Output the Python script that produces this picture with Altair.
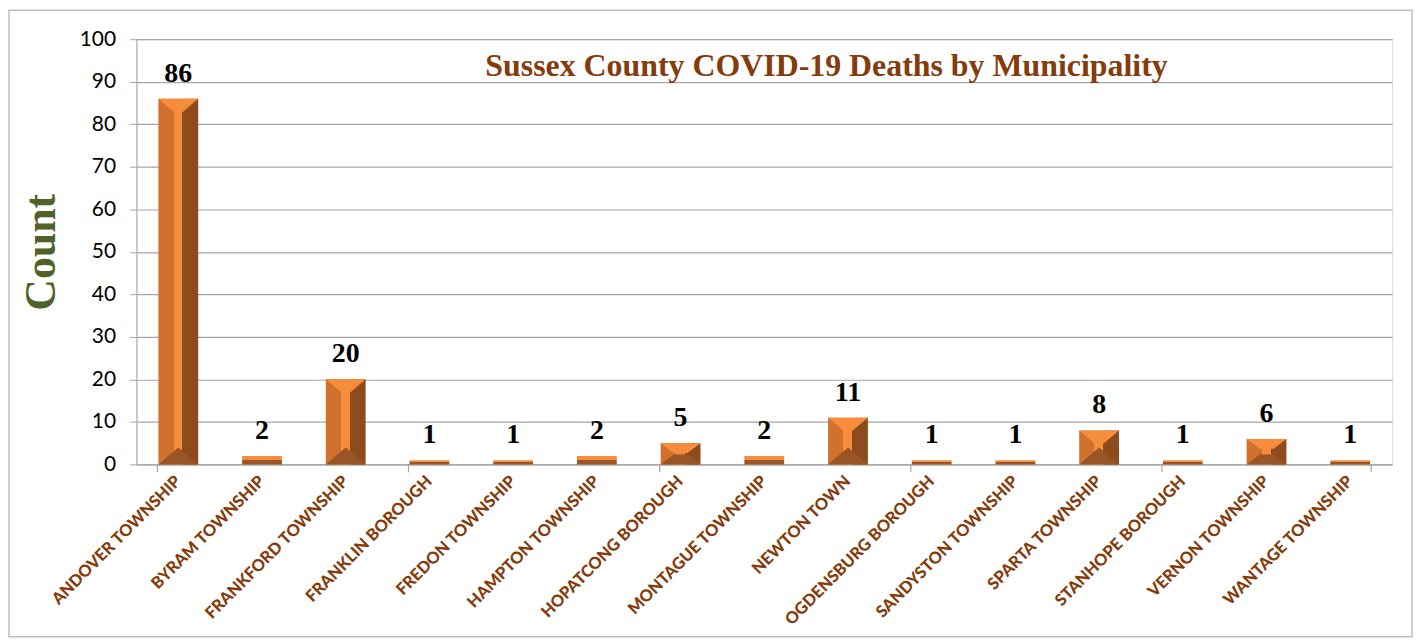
import altair as alt
import pandas as pd

municipalities = [
    "ANDOVER TOWNSHIP", "BYRAM TOWNSHIP", "FRANKFORD TOWNSHIP", "FRANKLIN BOROUGH",
    "FREDON TOWNSHIP", "HAMPTON TOWNSHIP", "HOPATCONG BOROUGH", "MONTAGUE TOWNSHIP",
    "NEWTON TOWN", "OGDENSBURG BOROUGH", "SANDYSTON TOWNSHIP", "SPARTA TOWNSHIP",
    "STANHOPE BOROUGH", "VERNON TOWNSHIP", "WANTAGE TOWNSHIP",
]
deaths = [86, 2, 20, 1, 1, 2, 5, 2, 11, 1, 1, 8, 1, 6, 1]
y_ticks = [0, 10, 20, 30, 40, 50, 60, 70, 80, 90, 100]
tick_starts = ["ANDOVER TOWNSHIP", "FRANKLIN BOROUGH", "HOPATCONG BOROUGH",
               "OGDENSBURG BOROUGH", "STANHOPE BOROUGH"]
tick_end = ["WANTAGE TOWNSHIP"]
title_text = ["Sussex County COVID-19 Deaths by Municipality"]

df = pd.DataFrame({"m": municipalities, "v": deaths, "zero": [0] * len(deaths)})
df["cap"] = ["full" if v >= 8 else ("half" if v >= 5 else "none") for v in deaths]

W, H = 1261, 427
GRAY = "#A6A6A6"
LIGHT = "#F58D3D"
MID = "#D2712D"
DARK = "#8E4C1E"
BOTTOM = "#9A5526"

xs = alt.X("m:N", sort=municipalities,
           scale=alt.Scale(paddingInner=0.5, paddingOuter=0.25),
           axis=alt.Axis(title=None, labelAngle=-45, labelAlign="right",
                         labelBaseline="middle", labelFont="Lato",
                         labelFontWeight=900, labelFontSize=16.5,
                         labelColor="#843C0C", labelPadding=14, ticks=False,
                         domainColor=GRAY, labelOverlap=False, labelLimit=300))
ys = alt.Y("v:Q", scale=alt.Scale(domain=[0, 100], nice=False),
           axis=alt.Axis(values=y_ticks, title="Count", titleFont="Liberation Serif",
                         titleFontSize=44, titleFontWeight="bold", titleColor="#4F6228",
                         titlePadding=16, labelFont="Lato", labelFontSize=21,
                         labelColor="#000000", labelPadding=14, tickSize=7,
                         tickColor=GRAY, domainColor=GRAY, gridColor=GRAY,
                         gridWidth=1.2))

base = alt.Chart(df)
xm = alt.X("m:N", sort=municipalities)

grad = alt.LinearGradient(
    gradient="linear", x1=0, x2=1, y1=0, y2=0,
    stops=[
        alt.GradientStop(color=MID, offset=0),
        alt.GradientStop(color=MID, offset=0.38),
        alt.GradientStop(color=LIGHT, offset=0.38),
        alt.GradientStop(color=LIGHT, offset=0.6),
        alt.GradientStop(color=DARK, offset=0.6),
        alt.GradientStop(color=DARK, offset=1),
    ],
)
vgrad = alt.LinearGradient(
    gradient="linear", x1=0, x2=0, y1=0, y2=1,
    stops=[
        alt.GradientStop(color=LIGHT, offset=0),
        alt.GradientStop(color=LIGHT, offset=0.45),
        alt.GradientStop(color=BOTTOM, offset=0.45),
        alt.GradientStop(color=BOTTOM, offset=1),
    ],
)

bars = base.transform_filter(alt.datum.cap != "none").mark_bar(color=grad, size=40).encode(x=xs, y=ys)
small_bars = base.transform_filter(alt.datum.cap == "none").mark_bar(
    color=vgrad, size=40).encode(x=xm, y=alt.Y("v:Q"))

top_full = base.transform_filter(alt.datum.cap == "full").mark_point(
    shape="M-1,0L1,0L0,0.85Z", size=1600, filled=True, opacity=1, color=LIGHT, strokeWidth=0
).encode(x=xm, y=alt.Y("v:Q"))
top_half = base.transform_filter(alt.datum.cap == "half").mark_point(
    shape="M-1,0L1,0L0.35,0.5L-0.35,0.5Z", size=1600, filled=True, opacity=1, color=LIGHT, strokeWidth=0
).encode(x=xm, y=alt.Y("v:Q"))
bot_full = base.transform_filter(alt.datum.cap == "full").mark_point(
    shape="M-1,0L1,0L0,-0.85Z", size=1600, filled=True, opacity=1, color=BOTTOM, strokeWidth=0
).encode(x=xm, y=alt.Y("zero:Q"))
bot_half = base.transform_filter(alt.datum.cap == "half").mark_point(
    shape="M-1,0L1,0L0.35,-0.5L-0.35,-0.5Z", size=1600, filled=True, opacity=1, color=BOTTOM, strokeWidth=0
).encode(x=xm, y=alt.Y("zero:Q"))

labels = base.mark_text(font="Liberation Serif", fontWeight="bold", fontSize=28,
                        baseline="bottom", dy=-11, color="#000000").encode(
    x=xm, y=alt.Y("v:Q"), text="v:Q")

tick_a = alt.Chart(pd.DataFrame({"m": tick_starts})).mark_rule(color=GRAY, strokeWidth=1.2).encode(
    x=alt.X("m:N", sort=municipalities, bandPosition=0), y=alt.value(H), y2=alt.value(H + 8))
tick_b = alt.Chart(pd.DataFrame({"m": tick_end})).mark_rule(color=GRAY, strokeWidth=1.2).encode(
    x=alt.X("m:N", sort=municipalities, bandPosition=1), y=alt.value(H), y2=alt.value(H + 8))

title = alt.Chart(pd.DataFrame({"t": title_text})).mark_text(
    font="Liberation Serif", fontSize=32, fontWeight="bold", color="#843C0C",
    align="center", baseline="alphabetic").encode(
    x=alt.value(693), y=alt.value(37), text="t:N")

frame = alt.Chart(pd.DataFrame({"a": [0]})).mark_rect(
    fill="transparent", stroke="#BFBFBF", strokeWidth=1.5).encode(
    x=alt.value(-128), x2=alt.value(W + 20), y=alt.value(-29), y2=alt.value(H + 173))

chart = alt.layer(bars, small_bars, top_full, top_half, bot_full, bot_half, labels,
                  tick_a, tick_b, title, frame).properties(
    width=W, height=H,
    autosize=alt.AutoSizeParams(type="none"),
    padding={"left": 129, "top": 30, "right": 22, "bottom": 175},
).configure_view(stroke=None).configure(background="white")

chart.save("out.html", embed_options={"renderer": "svg", "actions": False})
